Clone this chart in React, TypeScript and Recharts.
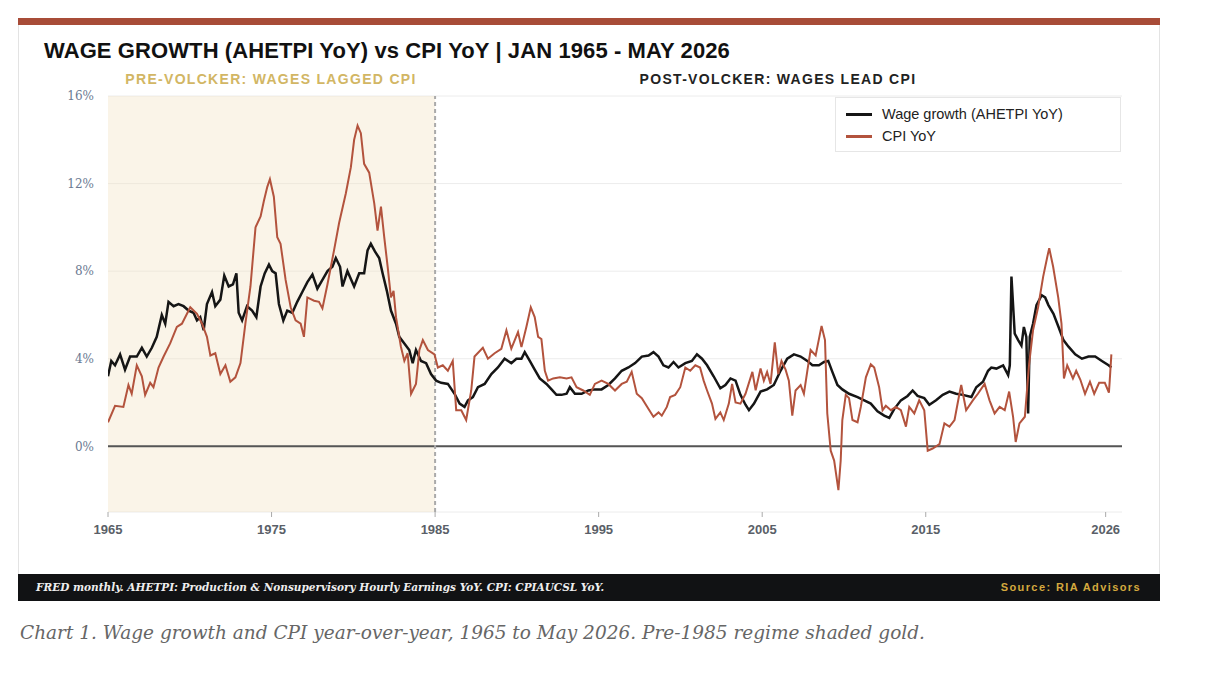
import { LineChart, Line, XAxis, YAxis, CartesianGrid, ReferenceArea, ReferenceLine, Legend } from 'recharts';

const YEAR_TICKS = [1965, 1975, 1985, 1995, 2005, 2015, 2026];
const PCT_TICKS = [0, 4, 8, 12, 16];
const SERIES_NAMES = ['Wage growth (AHETPI YoY)', 'CPI YoY'];

// [year, YoY %]
const WAGE: [number, number][] = [
  [1965.0, 3.2], [1965.2, 3.9], [1965.43, 3.7], [1965.74, 4.2], [1966.04, 3.5], [1966.35, 4.1],
  [1966.76, 4.1], [1967.07, 4.5], [1967.37, 4.1], [1967.68, 4.5], [1967.98, 5.0], [1968.29, 6.0],
  [1968.5, 5.6], [1968.7, 6.6], [1969.01, 6.4], [1969.31, 6.5], [1969.62, 6.4], [1969.93, 6.2],
  [1970.23, 6.1], [1970.44, 5.75], [1970.64, 5.9], [1970.85, 5.3], [1971.05, 6.5], [1971.36, 7.05],
  [1971.56, 6.4], [1971.87, 6.7], [1972.11, 7.8], [1972.38, 7.3], [1972.64, 7.4], [1972.85, 7.9],
  [1972.99, 6.1], [1973.2, 5.75], [1973.5, 6.4], [1973.81, 6.2], [1974.07, 5.9], [1974.33, 7.3],
  [1974.58, 7.9], [1974.84, 8.3], [1975.04, 8.0], [1975.25, 7.9], [1975.45, 6.5], [1975.72, 5.75],
  [1975.96, 6.2], [1976.27, 6.1], [1976.57, 6.6], [1976.88, 7.05], [1977.19, 7.5], [1977.5, 7.85],
  [1977.8, 7.2], [1978.11, 7.6], [1978.42, 8.0], [1978.72, 8.2], [1978.93, 8.6], [1979.19, 8.2],
  [1979.34, 7.3], [1979.64, 8.0], [1980.05, 7.3], [1980.36, 7.9], [1980.66, 7.9], [1980.87, 8.95],
  [1981.07, 9.25], [1981.32, 8.9], [1981.58, 8.6], [1981.79, 7.9], [1982.05, 7.1], [1982.3, 6.2],
  [1982.61, 5.6], [1982.81, 5.0], [1983.12, 4.7], [1983.42, 4.4], [1983.63, 3.8], [1983.83, 4.4],
  [1984.14, 3.9], [1984.45, 3.8], [1984.75, 3.3], [1985.06, 3.0], [1985.37, 2.9], [1985.78, 2.85],
  [1986.19, 2.4], [1986.5, 1.95], [1986.8, 1.8], [1987.01, 2.1], [1987.31, 2.25], [1987.62, 2.7],
  [1988.03, 2.85], [1988.44, 3.3], [1988.84, 3.6], [1989.25, 4.0], [1989.66, 3.8], [1989.97, 4.0],
  [1990.28, 4.0], [1990.48, 4.3], [1990.79, 3.9], [1991.09, 3.5], [1991.4, 3.1], [1991.81, 2.85],
  [1992.12, 2.6], [1992.42, 2.35], [1992.73, 2.35], [1993.04, 2.4], [1993.24, 2.7], [1993.55, 2.4],
  [1993.96, 2.4], [1994.37, 2.55], [1994.77, 2.6], [1995.18, 2.6], [1995.59, 2.8], [1996.0, 3.1],
  [1996.41, 3.45], [1996.82, 3.6], [1997.23, 3.8], [1997.64, 4.1], [1998.05, 4.15], [1998.35, 4.3],
  [1998.66, 4.1], [1998.96, 3.7], [1999.27, 3.6], [1999.58, 3.85], [1999.88, 3.6], [2000.3, 3.8],
  [2000.7, 3.9], [2001.01, 4.2], [2001.32, 4.0], [2001.63, 3.7], [2002.03, 3.2], [2002.44, 2.65],
  [2002.75, 2.8], [2003.06, 3.1], [2003.37, 3.0], [2003.67, 2.35], [2003.98, 1.9], [2004.19, 1.65],
  [2004.5, 1.95], [2004.9, 2.5], [2005.3, 2.6], [2005.71, 2.8], [2006.12, 3.45], [2006.53, 4.0],
  [2006.94, 4.2], [2007.35, 4.1], [2007.76, 3.9], [2008.07, 3.7], [2008.47, 3.7], [2008.78, 3.85],
  [2009.04, 3.9], [2009.29, 3.4], [2009.6, 2.8], [2009.9, 2.6], [2010.31, 2.4], [2010.83, 2.25],
  [2011.24, 2.1], [2011.64, 1.95], [2012.05, 1.6], [2012.46, 1.4], [2012.77, 1.3], [2013.07, 1.7],
  [2013.48, 2.1], [2013.89, 2.3], [2014.2, 2.55], [2014.5, 2.3], [2014.91, 2.2], [2015.22, 1.9],
  [2015.63, 2.1], [2016.04, 2.35], [2016.45, 2.5], [2016.86, 2.4], [2017.27, 2.35], [2017.79, 2.25],
  [2018.09, 2.7], [2018.5, 2.95], [2018.81, 3.45], [2019.01, 3.6], [2019.32, 3.55], [2019.73, 3.7],
  [2020.04, 3.25], [2020.14, 3.7], [2020.24, 7.75], [2020.44, 5.15], [2020.65, 4.85], [2020.85, 4.6],
  [2021.0, 5.45], [2021.15, 5.0], [2021.26, 1.5], [2021.36, 5.0], [2021.56, 5.6], [2021.77, 6.45],
  [2022.09, 6.9], [2022.3, 6.8], [2022.5, 6.45], [2022.81, 6.05], [2023.12, 5.45], [2023.42, 4.85],
  [2023.73, 4.55], [2024.14, 4.2], [2024.55, 4.0], [2024.95, 4.1], [2025.36, 4.1], [2025.77, 3.9],
  [2026.18, 3.7], [2026.35, 3.6],
];

const CPI: [number, number][] = [
  [1965.0, 1.1], [1965.43, 1.85], [1965.94, 1.8], [1966.25, 2.8], [1966.45, 2.4], [1966.76, 3.7],
  [1967.07, 3.2], [1967.27, 2.35], [1967.58, 2.9], [1967.78, 2.7], [1968.09, 3.6], [1968.4, 4.1],
  [1968.8, 4.7], [1969.21, 5.45], [1969.52, 5.6], [1970.03, 6.35], [1970.44, 6.05], [1970.75, 5.6],
  [1971.05, 5.0], [1971.26, 4.15], [1971.56, 4.25], [1971.87, 3.3], [1972.18, 3.7], [1972.48, 2.95],
  [1972.79, 3.15], [1973.1, 3.8], [1973.4, 5.6], [1973.71, 7.3], [1974.02, 10.0], [1974.33, 10.5],
  [1974.53, 11.2], [1974.74, 11.85], [1974.9, 12.2], [1975.14, 11.4], [1975.35, 9.55], [1975.55, 9.25],
  [1975.86, 7.6], [1976.17, 6.35], [1976.47, 5.75], [1976.78, 5.6], [1976.98, 5.0], [1977.19, 6.8],
  [1977.6, 6.65], [1977.9, 6.6], [1978.11, 6.3], [1978.42, 7.4], [1978.82, 8.95], [1979.13, 10.2],
  [1979.54, 11.55], [1979.85, 12.75], [1980.05, 14.0], [1980.26, 14.65], [1980.46, 14.3], [1980.66, 12.9],
  [1980.97, 12.5], [1981.28, 11.1], [1981.48, 9.85], [1981.69, 10.95], [1981.89, 9.55], [1982.1, 8.2],
  [1982.3, 6.8], [1982.46, 7.1], [1982.61, 5.9], [1982.91, 4.55], [1983.12, 3.9], [1983.32, 4.25],
  [1983.53, 2.4], [1983.83, 2.85], [1984.04, 4.4], [1984.25, 4.85], [1984.56, 4.4], [1984.96, 4.2],
  [1985.17, 3.6], [1985.47, 3.7], [1985.78, 3.45], [1986.08, 3.9], [1986.29, 1.65], [1986.6, 1.65],
  [1986.9, 1.2], [1987.21, 2.55], [1987.41, 4.1], [1987.92, 4.5], [1988.23, 4.0], [1988.64, 4.25],
  [1989.05, 4.45], [1989.36, 5.3], [1989.66, 4.46], [1990.07, 5.22], [1990.28, 4.53], [1990.58, 5.45],
  [1990.85, 6.35], [1991.09, 5.9], [1991.3, 5.0], [1991.5, 4.9], [1991.71, 3.45], [1991.91, 3.0],
  [1992.22, 3.1], [1992.63, 3.15], [1993.04, 3.1], [1993.34, 3.15], [1993.65, 2.7], [1994.06, 2.55],
  [1994.46, 2.35], [1994.77, 2.85], [1995.18, 3.0], [1995.59, 2.85], [1996.0, 2.55], [1996.41, 2.85],
  [1996.72, 2.95], [1997.02, 3.4], [1997.33, 2.4], [1997.64, 2.2], [1998.05, 1.7], [1998.35, 1.35],
  [1998.66, 1.55], [1998.86, 1.4], [1999.17, 1.8], [1999.37, 2.25], [1999.68, 2.35], [1999.99, 2.7],
  [2000.3, 3.6], [2000.6, 3.45], [2000.91, 3.7], [2001.2, 3.6], [2001.42, 3.0], [2001.63, 2.55],
  [2001.93, 1.95], [2002.14, 1.25], [2002.44, 1.55], [2002.65, 1.2], [2002.96, 1.95], [2003.16, 2.85],
  [2003.37, 2.0], [2003.67, 1.95], [2003.98, 2.4], [2004.4, 3.4], [2004.6, 2.56], [2004.9, 3.55],
  [2005.1, 3.0], [2005.3, 3.4], [2005.51, 2.85], [2005.77, 4.75], [2005.98, 3.3], [2006.18, 3.9],
  [2006.43, 3.5], [2006.63, 3.0], [2006.84, 1.4], [2007.04, 2.55], [2007.35, 2.8], [2007.55, 2.4],
  [2007.76, 3.45], [2007.96, 4.4], [2008.27, 4.15], [2008.63, 5.5], [2008.84, 4.85], [2008.98, 1.5],
  [2009.19, -0.2], [2009.4, -0.65], [2009.66, -2.0], [2009.8, -0.65], [2009.9, 1.2], [2010.11, 2.35],
  [2010.31, 2.2], [2010.52, 1.2], [2010.83, 1.1], [2011.03, 1.8], [2011.34, 3.15], [2011.64, 3.75],
  [2011.85, 3.6], [2012.15, 2.7], [2012.36, 1.65], [2012.56, 1.85], [2012.87, 1.65], [2013.17, 1.8],
  [2013.48, 1.65], [2013.79, 0.9], [2013.99, 1.8], [2014.3, 1.5], [2014.6, 2.1], [2014.91, 1.65],
  [2015.12, -0.2], [2015.42, -0.1], [2015.84, 0.1], [2016.14, 1.05], [2016.45, 0.9], [2016.76, 1.2],
  [2017.06, 2.4], [2017.17, 2.8], [2017.47, 1.65], [2017.88, 2.1], [2018.19, 2.4], [2018.6, 2.85],
  [2018.9, 2.1], [2019.21, 1.5], [2019.52, 1.8], [2019.83, 1.65], [2020.1, 2.5], [2020.34, 1.35],
  [2020.5, 0.2], [2020.73, 1.05], [2021.06, 1.35], [2021.32, 3.75], [2021.56, 5.3], [2021.87, 6.35],
  [2022.18, 7.75], [2022.43, 8.65], [2022.55, 9.05], [2022.79, 8.2], [2023.1, 6.8], [2023.3, 5.6],
  [2023.45, 3.1], [2023.65, 3.7], [2024.0, 3.1], [2024.2, 3.45], [2024.45, 3.05], [2024.74, 2.4],
  [2025.04, 2.95], [2025.3, 2.4], [2025.6, 2.9], [2025.95, 2.9], [2026.2, 2.45], [2026.25, 3.0],
  [2026.35, 4.2],
];

const toRows = (pts: [number, number][]) => pts.map(([t, v]) => ({ t, v }));
const wageRows = toRows(WAGE);
const cpiRows = toRows(CPI);

const WAGE_COLOR = '#151515';
const CPI_COLOR = '#b3533d';

function LegendBox({ payload }: any) {
  const items = [...(payload || [])].sort((a: any, b: any) => SERIES_NAMES.indexOf(a.value) - SERIES_NAMES.indexOf(b.value));
  return (
    <div style={{ background: '#fff', border: '1px solid #e6e6e6', boxSizing: 'border-box', width: 286, height: 55, padding: '5px 10px' }}>
      {items.map((p: any) => (
        <div key={p.value} style={{ display: 'flex', alignItems: 'center', height: 22, fontSize: 14.5, color: '#222', fontFamily: '"Liberation Sans", Arial, sans-serif' }}>
          <span style={{ display: 'inline-block', width: 26, height: 3, background: p.color, marginRight: 10 }} />
          {p.value}
        </div>
      ))}
    </div>
  );
}

export default function App() {
  return (
    <div style={{ position: 'absolute', left: 0, top: 0, width: 1230, height: 678, background: '#fff', fontFamily: '"Liberation Sans", Arial, sans-serif' }}>
      {/* card */}
      <div style={{ position: 'absolute', left: 18, top: 18, width: 1142, height: 582, border: '1px solid #e3e3e3', boxSizing: 'border-box' }} />
      <div style={{ position: 'absolute', left: 18, top: 18, width: 1142, height: 7, background: '#a84c38' }} />

      <div style={{ position: 'absolute', left: 44, top: 39, fontSize: 22, fontWeight: 700, color: '#111', letterSpacing: 0.1, lineHeight: '24px', whiteSpace: 'nowrap' }}>
        WAGE GROWTH (AHETPI YoY) vs CPI YoY | JAN 1965 - MAY 2026
      </div>
      <div style={{ position: 'absolute', left: 108, width: 326, top: 71, textAlign: 'center', fontSize: 14, fontWeight: 700, color: '#d2b664', letterSpacing: 1.3, lineHeight: '16px', whiteSpace: 'nowrap' }}>
        PRE-VOLCKER: WAGES LAGGED CPI
      </div>
      <div style={{ position: 'absolute', left: 434, width: 688, top: 71, textAlign: 'center', fontSize: 14, fontWeight: 700, color: '#222', letterSpacing: 1.3, lineHeight: '16px', whiteSpace: 'nowrap' }}>
        POST-VOLCKER: WAGES LEAD CPI
      </div>

      <div style={{ position: 'absolute', left: 0, top: 0 }}>
        <LineChart width={1230} height={678} margin={{ top: 96, right: 108, bottom: 136, left: 58 }}>
          <CartesianGrid horizontal vertical={false} stroke="#ececec" />
          <ReferenceArea x1={1965} x2={1985} y1={-3} y2={16} fill="#f3e3c6" fillOpacity={0.4} stroke="none" />
          <XAxis
            dataKey="t"
            type="number"
            domain={[1965, 2027]}
            ticks={YEAR_TICKS}
            allowDataOverflow
            axisLine={false}
            tickLine={{ stroke: '#aaa' }}
            tickSize={5}
            tickMargin={8}
            height={30}
            tick={{ fontSize: 13, fontWeight: 700, fill: '#5a5f68' }}
          />
          <YAxis
            type="number"
            domain={[-3, 16]}
            ticks={PCT_TICKS}
            allowDataOverflow
            width={50}
            axisLine={false}
            tickLine={false}
            tickMargin={8}
            tickFormatter={(v) => `${v}%`}
            tick={{ fontSize: 12, fill: '#6b7a92', fontFamily: 'Georgia, "DejaVu Serif", serif' }}
          />
          <ReferenceLine y={0} stroke="#555" strokeWidth={2} />
          <ReferenceLine x={1985} stroke="#aaa" strokeWidth={2} strokeDasharray="4 3" />
          <Legend
            verticalAlign="middle"
            align="center"
            layout="horizontal"
            content={<LegendBox />}
            wrapperStyle={{ position: 'absolute', left: 835, top: 97, width: 286 }}
          />
          <Line data={wageRows} dataKey="v" name={SERIES_NAMES[0]} stroke={WAGE_COLOR} strokeWidth={2.5} dot={false} activeDot={false} isAnimationActive={false} />
          <Line data={cpiRows} dataKey="v" name={SERIES_NAMES[1]} stroke={CPI_COLOR} strokeWidth={2} dot={false} activeDot={false} isAnimationActive={false} />
        </LineChart>
      </div>

      {/* footer */}
      <div style={{ position: 'absolute', left: 18, top: 574, width: 1142, height: 27, background: '#111214' }} />
      <div style={{ position: 'absolute', left: 36, top: 581, fontSize: 10.5, fontWeight: 700, fontStyle: 'italic', color: '#eee', fontFamily: '"DejaVu Serif", Georgia, serif', whiteSpace: 'nowrap', lineHeight: '13px' }}>
        FRED monthly. AHETPI: Production &amp; Nonsupervisory Hourly Earnings YoY. CPI: CPIAUCSL YoY.
      </div>
      <div style={{ position: 'absolute', right: 1230 - 1141, top: 581, fontSize: 11, fontWeight: 700, color: '#d4a93e', letterSpacing: 1.4, whiteSpace: 'nowrap', lineHeight: '13px' }}>
        Source: RIA Advisors
      </div>

      <div style={{ position: 'absolute', left: 20, top: 621, fontSize: 18.5, fontStyle: 'italic', color: '#666', fontFamily: '"DejaVu Serif", Georgia, serif', whiteSpace: 'nowrap', lineHeight: '24px' }}>
        Chart 1. Wage growth and CPI year-over-year, 1965 to May 2026. Pre-1985 regime shaded gold.
      </div>
    </div>
  );
}
